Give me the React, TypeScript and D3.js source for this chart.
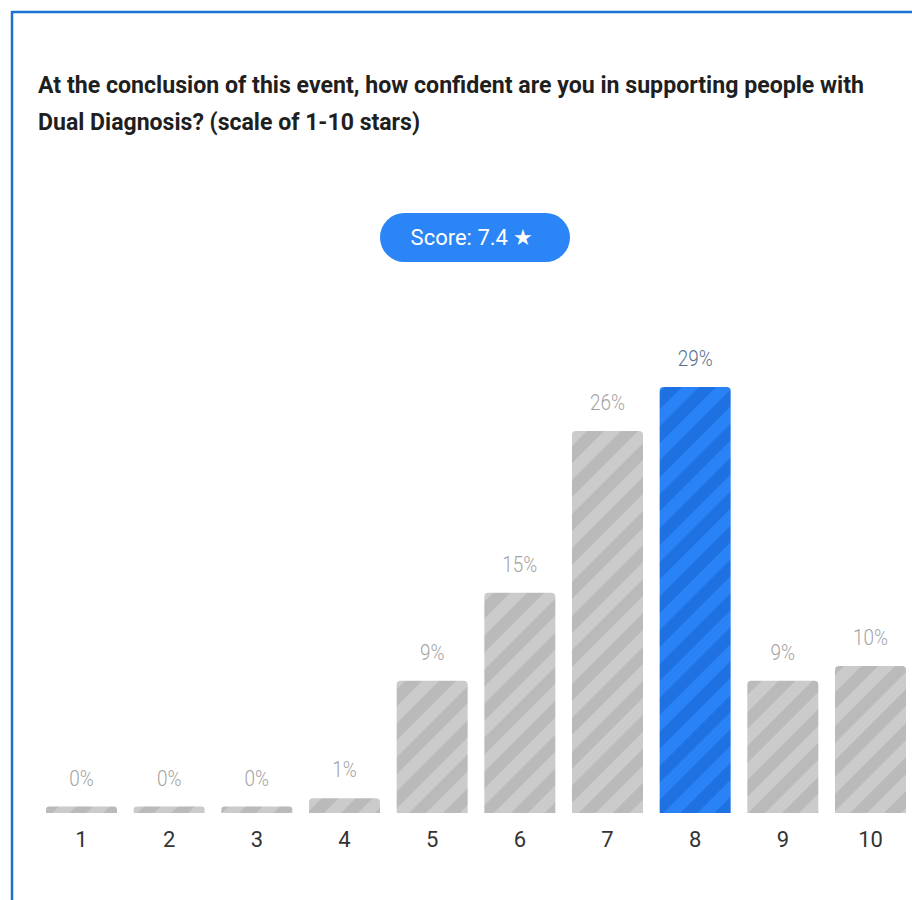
import React from "react";
import * as d3 from "d3";

const categories = ["1", "2", "3", "4", "5", "6", "7", "8", "9", "10"];
const percents = [0, 0, 0, 1, 9, 15, 26, 29, 9, 10];
const highlighted = "8";
const titleLines = [
  "At the conclusion of this event, how confident are you in supporting people with",
  "Dual Diagnosis? (scale of 1-10 stars)",
];
const scoreText = "Score: 7.4 \u2605";

const W = 912;
const H = 900;
const FONT = "Roboto, 'Noto Sans', sans-serif";

export default function App() {
  const x = d3
    .scaleBand<string>()
    .domain(categories)
    .range([46, 906])
    .paddingInner(0.19)
    .paddingOuter(0);
  const baseline = 813;
  const y = d3.scaleLinear().domain([0, 29]).range([baseline, 387]);
  const minH = 6.5;
  const r = 4;

  const barPath = (x0: number, top: number, w: number) => {
    const p = d3.path();
    const rr = Math.min(r, (baseline - top) / 2, w / 2);
    p.moveTo(x0, baseline);
    p.lineTo(x0, top + rr);
    p.quadraticCurveTo(x0, top, x0 + rr, top);
    p.lineTo(x0 + w - rr, top);
    p.quadraticCurveTo(x0 + w, top, x0 + w, top + rr);
    p.lineTo(x0 + w, baseline);
    p.closePath();
    return p.toString();
  };

  return (
    <svg
      width={W}
      height={H}
      style={{ position: "absolute", left: 0, top: 0, background: "#fff" }}
    >
      <defs>
        <pattern
          id="stripeGray"
          patternUnits="userSpaceOnUse"
          width={24}
          height={24}
          patternTransform="rotate(45)"
        >
          <rect width={24} height={24} fill="#cbcbcb" />
          <rect width={12} height={24} fill="#bababa" />
        </pattern>
        <pattern
          id="stripeBlue"
          patternUnits="userSpaceOnUse"
          width={24}
          height={24}
          patternTransform="rotate(45)"
        >
          <rect width={24} height={24} fill="#2a83f6" />
          <rect width={12} height={24} fill="#1f71e2" />
        </pattern>
      </defs>
      <rect x={0} y={0} width={W} height={H} fill="#fff" />
      {/* frame */}
      <line x1={12} y1={12} x2={W} y2={12} stroke="#1a72d2" strokeWidth={2.5} />
      <line x1={12} y1={11} x2={12} y2={H} stroke="#1a72d2" strokeWidth={2.5} />

      {/* title */}
      {titleLines.map((t, i) => (
        <text
          key={i}
          x={38}
          y={93 + i * 37}
          fontFamily={FONT}
          fontSize={23}
          fontWeight={700}
          fill="#1f1f1f"
          textLength={i === 0 ? 826 : 382}
          lengthAdjust="spacingAndGlyphs"
        >
          {t}
        </text>
      ))}

      {/* score pill */}
      <rect x={380} y={213} width={190} height={49} rx={24.5} fill="#2b85f6" />
      <text
        x={472}
        y={245}
        textAnchor="middle"
        fontFamily={FONT}
        fontSize={22}
        fill="#ffffff"
      >
        {scoreText}
      </text>

      {/* bars */}
      {categories.map((c, i) => {
        const v = percents[i];
        const x0 = x(c) as number;
        const w = x.bandwidth();
        const top = Math.min(y(v), baseline - minH);
        const hi = c === highlighted;
        const cx = x0 + w / 2;
        return (
          <g key={c}>
            <path d={barPath(x0, top, w)} fill={hi ? "url(#stripeBlue)" : "url(#stripeGray)"} />
            <g transform={`translate(${cx},${top - 21}) scale(0.86,1)`}>
              <text
                x={0}
                y={0}
                textAnchor="middle"
                fontFamily={FONT}
                fontSize={22}
                fontWeight={300}
                fill={hi ? "#56708f" : "#a3a3a3"}
              >
                {`${v}%`}
              </text>
            </g>
            <text
              x={cx}
              y={847}
              textAnchor="middle"
              fontFamily={FONT}
              fontSize={22}
              fill="#333333"
            >
              {c}
            </text>
          </g>
        );
      })}
    </svg>
  );
}
